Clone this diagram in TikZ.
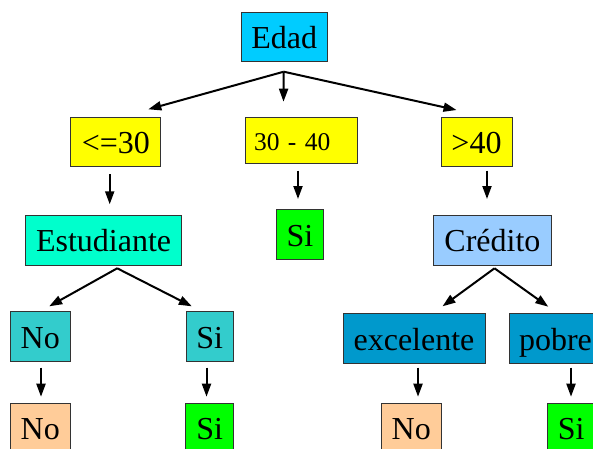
\documentclass[tikz,border=0pt]{standalone}
\usepackage{fontspec}
\setmainfont{Liberation Serif}
\usetikzlibrary{arrows.meta}
\definecolor{edadC}{HTML}{00CCFF}
\definecolor{yelC}{HTML}{FFFF00}
\definecolor{estC}{HTML}{00FFCC}
\definecolor{grnC}{HTML}{00FF00}
\definecolor{credC}{HTML}{99CCFF}
\definecolor{tealC}{HTML}{33CCCC}
\definecolor{blueC}{HTML}{0099CC}
\definecolor{peachC}{HTML}{FFCC99}
\tikzset{
  box/.style={draw=black!80, line width=1pt, inner sep=0pt, minimum height=49.5pt,
    font=\fontsize{32}{32}\selectfont, text height=23.6pt, text depth=0pt},
  arr/.style={line width=2pt, -{Triangle[length=13pt,width=9pt]}},
}
\begin{document}
\begin{tikzpicture}[x=1pt,y=-1pt]
\useasboundingbox (0,0) rectangle (593,448);
\clip (0,0) rectangle (593,448);
% nodes
\node[box, fill=edadC, minimum width=86.5pt] (edad) at (284.3,36.8) {Edad};
\node[box, fill=yelC, minimum width=89.7pt] (le30) at (115.8,142) {<=30};
\node[box, fill=yelC, minimum height=46pt, text width=94.4pt, inner xsep=9pt, align=left,
      font=\fontsize{25.5}{25.5}\selectfont, text height=19.4pt] (mid) at (301.2,140.3) {30 - 40};
\node[box, fill=yelC, minimum width=71pt] (gt40) at (476.5,142) {>40};
\node[box, fill=estC, minimum width=155.8pt, minimum height=50pt] (est) at (103.6,240) {Estudiante};
\node[box, fill=grnC, minimum width=47.7pt] (simid) at (299.9,234.7) {Si};
\node[box, fill=credC, minimum width=117.2pt, minimum height=50pt] (cred) at (492.4,240) {Crédito};
\node[box, fill=tealC, minimum width=60.1pt] (eno) at (40.3,336.3) {No};
\node[box, fill=tealC, minimum width=47.4pt] (esi) at (209.7,336.3) {Si};
\node[box, fill=blueC, minimum width=142pt, minimum height=50pt] (exc) at (414,338.3) {excelente};
\node[box, fill=blueC, minimum width=92pt, minimum height=50pt] (pob) at (555.5,338.3) {pobre};
\node[box, fill=peachC, minimum width=60pt] (rno1) at (40.3,428) {No};
\node[box, fill=grnC, minimum width=47.7pt] (rsi1) at (209.6,428) {Si};
\node[box, fill=peachC, minimum width=60.4pt] (rno2) at (411.2,428) {No};
\node[box, fill=grnC, minimum width=47.7pt] (rsi2) at (571.2,428) {Si};
% connector coordinates
\coordinate (aE) at (283.7,71.7);
\coordinate (tLe) at (148.3,109.3);
\coordinate (tMid) at (283.5,101.7);
\coordinate (tGt) at (456.5,110);
\coordinate (s1) at (109.7,174.3); \coordinate (e1) at (109.7,204.3);
\coordinate (s2) at (298,170.7);   \coordinate (e2) at (298,199);
\coordinate (s3) at (487,170.7);   \coordinate (e3) at (487,199);
\coordinate (aS) at (117.2,268.3);
\coordinate (tSno) at (49.2,306.3);
\coordinate (tSsi) at (191.8,306.3);
\coordinate (aC) at (494.5,268.3);
\coordinate (tCex) at (442.5,306.3);
\coordinate (tCpo) at (548.3,306.7);
\coordinate (s4) at (41,367.7);  \coordinate (e4) at (41,396.7);
\coordinate (s5) at (206.5,367.7); \coordinate (e5) at (206.5,396.7);
\coordinate (s6) at (418,367.7); \coordinate (e6) at (418,396.7);
\coordinate (s7) at (571,367.7); \coordinate (e7) at (571,396.7);
% connectors
\draw[arr] (aE) -- (tLe);
\draw[arr] (aE) -- (tMid);
\draw[arr] (aE) -- (tGt);
\draw[arr] (s1) -- (e1);
\draw[arr] (s2) -- (e2);
\draw[arr] (s3) -- (e3);
\draw[arr] (aS) -- (tSno);
\draw[arr] (aS) -- (tSsi);
\draw[arr] (aC) -- (tCex);
\draw[arr] (aC) -- (tCpo);
\draw[arr] (s4) -- (e4);
\draw[arr] (s5) -- (e5);
\draw[arr] (s6) -- (e6);
\draw[arr] (s7) -- (e7);
\end{tikzpicture}
\end{document}
